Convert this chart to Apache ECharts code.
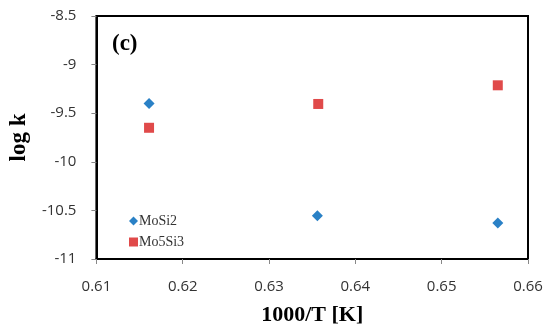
<!DOCTYPE html>
<html><head><meta charset="utf-8">
<script src="https://cdn.jsdelivr.net/npm/echarts@6/dist/echarts.min.js"></script>
<style>html,body{margin:0;padding:0;background:#fff}#c{width:550px;height:332px}</style>
</head><body><div id="c"></div>
<script>
const xTicks = [0.61, 0.62, 0.63, 0.64, 0.65, 0.66];
const yTicks = [-11, -10.5, -10, -9.5, -9, -8.5];
const moSi2X = [0.6161, 0.6356, 0.6565];
const moSi2Y = [-9.40, -10.555, -10.63];
const mo5Si3X = [0.6161, 0.6357, 0.6565];
const mo5Si3Y = [-9.65, -9.405, -9.213];
const seriesNames = ['MoSi2', 'Mo5Si3'];

const chart = echarts.init(document.getElementById('c'));
const zip = (xs, ys) => xs.map((x, i) => [x, ys[i]]);
chart.setOption({
  animation: false,
  grid: {left: 95, right: 22, top: 16, bottom: 73, show: true, borderColor: '#000', borderWidth: 2, backgroundColor: 'transparent'},
  xAxis: {
    type: 'value', min: xTicks[0], max: xTicks[xTicks.length-1], interval: 0.01,
    axisLine: {show: true, lineStyle: {color: '#000', width: 2}},
    axisTick: {show: true, length: 5, lineStyle: {color: '#888'}},
    splitLine: {show: false},
    axisLabel: {color: '#333', fontSize: 15, fontFamily: 'Open Sans', margin: 20, formatter: v => v.toFixed(2)},
    name: '1000/T [K]', nameLocation: 'middle', nameGap: 45,
    nameTextStyle: {fontFamily: 'Liberation Serif', fontWeight: 'bold', fontSize: 22, color: '#000'}
  },
  yAxis: {
    type: 'value', min: yTicks[0], max: yTicks[yTicks.length-1], interval: 0.5,
    axisLine: {show: true, lineStyle: {color: '#000', width: 2}},
    axisTick: {show: true, length: 5, lineStyle: {color: '#888'}},
    splitLine: {show: false},
    axisLabel: {color: '#333', fontSize: 15, fontFamily: 'Open Sans', margin: 20, formatter: v => String(v)},
    name: 'log k', nameLocation: 'middle', nameGap: 64, nameRotate: 90,
    nameTextStyle: {fontFamily: 'Liberation Serif', fontWeight: 'bold', fontSize: 23, color: '#000'}
  },
  legend: {
    orient: 'vertical', left: 124, top: 209, itemGap: 7, itemWidth: 9, itemHeight: 9,
    textStyle: {fontFamily: 'Liberation Serif', fontSize: 14, color: '#333', padding: [0,0,0,-4]},
    data: [{name: seriesNames[0], icon: 'diamond'}, {name: seriesNames[1], icon: 'rect'}]
  },
  graphic: [{type: 'text', left: 112, top: 33, style: {text: '(c)', font: 'bold 23px "Liberation Serif"', fill: '#000'}}],
  series: [
    {name: seriesNames[0], type: 'scatter', symbol: 'diamond', symbolSize: 11, itemStyle: {color: '#2a81c6', opacity: 1}, data: zip(moSi2X, moSi2Y)},
    {name: seriesNames[1], type: 'scatter', symbol: 'rect', symbolSize: 10, itemStyle: {color: '#e04a4a', opacity: 1}, data: zip(mo5Si3X, mo5Si3Y)}
  ]
});
</script></body></html>
